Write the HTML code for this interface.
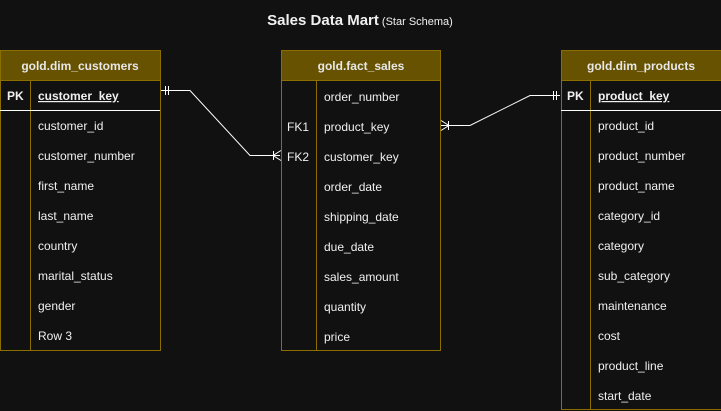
<!DOCTYPE html>
<html><head><meta charset="utf-8"><style>
html,body{margin:0;padding:0;background:#111111;}
svg{display:block;}
text{font-family:"Liberation Sans",Arial,sans-serif;fill:#f0f0f0;font-size:12px;}
.h{font-weight:bold;fill:#e8e8e8;}
.k{font-weight:bold;}
</style></head><body>
<svg width="721" height="411" xmlns="http://www.w3.org/2000/svg">
<rect width="721" height="411" fill="#111111"/>
<text x="360" y="25" text-anchor="middle"><tspan style="font-size:15px;font-weight:bold">Sales Data Mart</tspan><tspan style="font-size:11px"> (Star Schema)</tspan></text>

<!-- customers -->
<g>
<rect x="0.5" y="50.5" width="160" height="300" fill="#111111" stroke="#8a6f00"/>
<rect x="0.5" y="50.5" width="160" height="30" fill="#665200" stroke="#8a6f00"/>
<text class="h" x="80" y="70" text-anchor="middle">gold.dim_customers</text>
<line x1="30.5" y1="80" x2="30.5" y2="350" stroke="#8a6f00"/>
<line x1="0" y1="110.5" x2="160" y2="110.5" stroke="#ffffff"/>
<text class="k" x="7" y="100">PK</text>
<text class="k" x="38" y="100" text-decoration="underline">customer_key</text>
<text x="38" y="130">customer_id</text>
<text x="38" y="160">customer_number</text>
<text x="38" y="190">first_name</text>
<text x="38" y="220">last_name</text>
<text x="38" y="250">country</text>
<text x="38" y="280">marital_status</text>
<text x="38" y="310">gender</text>
<text x="38" y="340">Row 3</text>
</g>

<!-- fact -->
<g>
<rect x="281.5" y="50.5" width="159" height="300" fill="#111111" stroke="#8a6f00"/>
<rect x="281.5" y="50.5" width="159" height="30" fill="#665200" stroke="#8a6f00"/>
<text class="h" x="361" y="70" text-anchor="middle">gold.fact_sales</text>
<line x1="316.5" y1="80" x2="316.5" y2="350" stroke="#8a6f00"/>
<text x="324" y="101">order_number</text>
<text x="287" y="131">FK1</text><text x="324" y="131">product_key</text>
<text x="287" y="161">FK2</text><text x="324" y="161">customer_key</text>
<text x="324" y="191">order_date</text>
<text x="324" y="221">shipping_date</text>
<text x="324" y="251">due_date</text>
<text x="324" y="281">sales_amount</text>
<text x="324" y="311">quantity</text>
<text x="324" y="341">price</text>
</g>

<!-- products -->
<g>
<rect x="561.5" y="50.5" width="160" height="359" fill="#111111" stroke="#8a6f00"/>
<rect x="561.5" y="50.5" width="160" height="30" fill="#665200" stroke="#8a6f00"/>
<text class="h" x="641" y="70" text-anchor="middle">gold.dim_products</text>
<line x1="590.5" y1="80" x2="590.5" y2="410" stroke="#8a6f00"/>
<line x1="561" y1="110.5" x2="721" y2="110.5" stroke="#ffffff"/>
<text class="k" x="567" y="100">PK</text>
<text class="k" x="598" y="100" text-decoration="underline">product_key</text>
<text x="598" y="130">product_id</text>
<text x="598" y="160">product_number</text>
<text x="598" y="190">product_name</text>
<text x="598" y="220">category_id</text>
<text x="598" y="250">category</text>
<text x="598" y="280">sub_category</text>
<text x="598" y="310">maintenance</text>
<text x="598" y="340">cost</text>
<text x="598" y="370">product_line</text>
<text x="598" y="400">start_date</text>
</g>

<!-- connectors -->
<g stroke="#ffffff" fill="none" stroke-width="1">
<polyline points="161,90.5 190,90.5 250,155.5 280,155.5"/>
<line x1="165.5" y1="86" x2="165.5" y2="95"/>
<line x1="168.5" y1="86" x2="168.5" y2="95"/>
<line x1="273.5" y1="151" x2="273.5" y2="160"/>
<path d="M281,150.5 L273,155.5 L281,160.5"/>
<polyline points="441,125.5 470,125.5 530,95.5 560,95.5"/>
<line x1="553.5" y1="91" x2="553.5" y2="100"/>
<line x1="556.5" y1="91" x2="556.5" y2="100"/>
<line x1="448.5" y1="121" x2="448.5" y2="130"/>
<path d="M441,120.5 L449,125.5 L441,130.5"/>
</g>
</svg>
</body></html>
